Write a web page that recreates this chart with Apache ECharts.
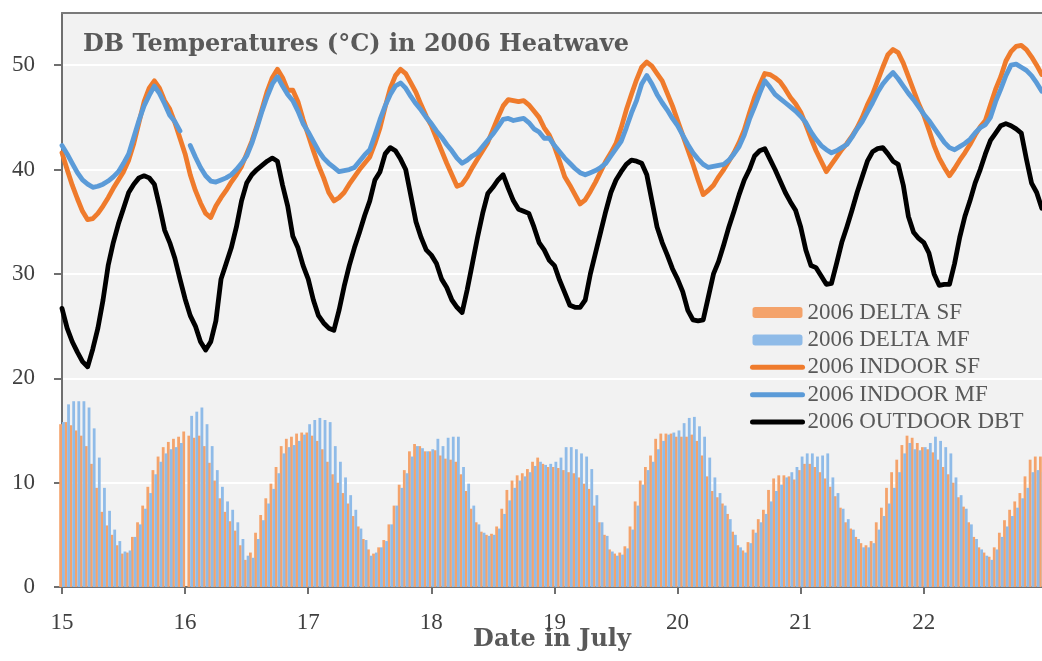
<!DOCTYPE html>
<html>
<head>
<meta charset="utf-8">
<script src="https://cdn.jsdelivr.net/npm/echarts@6/dist/echarts.min.js"></script>
<style>
html,body{margin:0;padding:0;background:#fff;}
#c{width:1042px;height:661px;}
</style>
</head>
<body>
<div id="c"></div>
<script>
// ---- Data (hourly, 15 July 00:00 to 22 July 23:00) ----
const startDay = 15;
const dayTicks = [15, 16, 17, 18, 19, 20, 21, 22];
const seriesNames = ['2006 DELTA SF', '2006 DELTA MF', '2006 INDOOR SF', '2006 INDOOR MF', '2006 OUTDOOR DBT'];

const outdoorDBT = [
  26.7, 24.8, 23.5, 22.5, 21.6, 21.1, 22.8, 24.8, 27.5, 30.8, 33.0, 34.8, 36.3, 37.8, 38.6, 39.2, 39.4, 39.2, 38.6, 36.5, 34.2, 33.0, 31.5, 29.5,
  27.6, 26.0, 25.0, 23.5, 22.7, 23.5, 25.5, 29.5, 31.0, 32.5, 34.5, 37.0, 38.7, 39.5, 40.0, 40.4, 40.8, 41.1, 40.8, 38.5, 36.5, 33.6, 32.5, 30.8,
  29.5, 27.5, 26.0, 25.3, 24.8, 24.6, 26.5, 28.8, 30.8, 32.5, 34.0, 35.6, 37.0, 39.0, 39.8, 41.5, 42.1, 41.8, 41.0, 40.0, 37.5, 35.0, 33.5, 32.3,
  31.8, 31.0, 29.5, 28.7, 27.5, 26.8, 26.3, 28.5, 31.0, 33.5, 35.8, 37.7, 38.3, 39.0, 39.5, 38.2, 37.0, 36.2, 36.0, 35.8, 34.5, 33.0, 32.3, 31.3,
  30.8, 29.4, 28.2, 27.0, 26.8, 26.8, 27.5, 30.0, 32.0, 34.0, 36.0, 37.8, 39.0, 39.8, 40.5, 40.9, 40.8, 40.6, 39.5, 37.0, 34.5, 33.0, 31.8, 30.5,
  29.5, 28.3, 26.5, 25.6, 25.5, 25.6, 27.8, 30.0, 31.2, 32.8, 34.5, 36.0, 37.6, 39.0, 40.0, 41.3, 41.8, 42.0, 41.0, 40.0, 38.9, 37.8, 36.9, 36.1,
  34.5, 32.3, 30.8, 30.6, 29.8, 29.0, 29.1, 31.0, 33.0, 34.5, 36.1, 37.8, 39.3, 40.8, 41.7, 42.0, 42.1, 41.5, 40.8, 40.5, 38.5, 35.5, 34.0, 33.4,
  33.0, 32.0, 30.0, 28.9, 29.0, 29.0, 31.0, 33.5, 35.5, 37.0, 38.7, 40.0, 41.5, 42.8, 43.5, 44.2, 44.4, 44.2, 43.9, 43.5, 41.0, 38.7, 37.8, 36.3
];

const indoorSF = [
  41.6, 40.0, 38.5, 37.2, 36.0, 35.2, 35.3, 35.8, 36.5, 37.3, 38.2, 39.0, 39.8, 40.9, 42.5, 44.5, 46.5, 47.8, 48.5, 47.8, 46.6, 45.8, 44.5, 43.0,
  41.5, 39.5, 38.0, 36.8, 35.8, 35.4, 36.5, 37.3, 38.0, 38.8, 39.5, 40.3, 41.5, 42.7, 44.2, 45.8, 47.5, 48.8, 49.6, 48.8, 47.6, 47.6, 46.5, 44.8,
  43.3, 41.8, 40.4, 39.2, 37.8, 37.0, 37.3, 37.8, 38.6, 39.3, 40.0, 40.6, 41.2, 42.5, 44.0, 46.0, 47.8, 49.0, 49.6, 49.2, 48.3, 47.4, 46.2, 45.1,
  44.2, 43.0, 41.8, 40.6, 39.5, 38.4, 38.6, 39.3, 40.2, 41.0, 41.8, 42.6, 43.8, 45.0, 46.1, 46.7, 46.6, 46.5, 46.6, 46.2, 45.6, 45.0, 44.0, 43.3,
  42.2, 40.8, 39.3, 38.5, 37.6, 36.7, 37.1, 37.9, 38.8, 39.8, 40.8, 41.6, 42.5, 44.0, 45.7, 47.2, 48.6, 49.8, 50.3, 49.9, 49.2, 48.5, 47.3, 46.1,
  44.7, 43.3, 41.9, 40.5, 39.0, 37.6, 38.0, 38.5, 39.3, 40.0, 40.8, 41.6, 42.6, 43.8, 45.4, 46.9, 48.1, 49.2, 49.1, 48.8, 48.4, 47.7, 46.9, 46.3,
  45.5, 44.3, 43.0, 41.8, 40.8, 39.8, 40.5, 41.2, 41.9, 42.5, 43.2, 44.0, 45.0, 46.2, 47.2, 48.5, 49.8, 51.0, 51.5, 51.2, 50.2, 48.9, 47.6, 46.3,
  45.2, 43.8, 42.3, 41.1, 40.2, 39.4, 40.1, 40.9, 41.6, 42.4, 43.3, 44.1, 44.7, 46.2, 47.7, 48.9, 50.4, 51.3, 51.8, 51.9, 51.5, 50.8, 50.0, 49.1
];

const indoorMF = [
  42.3, 41.5, 40.6, 39.7, 39.0, 38.6, 38.3, 38.4, 38.6, 38.9, 39.3, 39.8, 40.6, 41.5, 43.1, 44.7, 46.1, 47.1, 48.0, 47.3, 46.3, 45.2, 44.6, 43.7,
  null, 42.3, 41.2, 40.2, 39.4, 38.9, 38.8, 39.0, 39.2, 39.5, 40.0, 40.6, 41.3, 42.5, 44.0, 45.6, 47.0, 48.2, 48.9, 48.0, 47.2, 46.6, 45.6, 44.4,
  43.6, 42.7, 41.8, 41.1, 40.6, 40.2, 39.8, 39.9, 40.0, 40.2, 40.8, 41.4, 41.9, 43.3, 44.8, 46.1, 47.2, 48.0, 48.3, 47.8, 47.0, 46.3, 45.7, 45.0,
  44.4, 43.7, 43.1, 42.4, 41.8, 41.1, 40.6, 40.9, 41.3, 41.6, 42.2, 42.8, 43.4, 44.1, 44.8, 44.9, 44.7, 44.8, 44.9, 44.5, 43.9, 43.6, 43.0, 43.0,
  42.3, 41.7, 41.1, 40.6, 40.1, 39.7, 39.5, 39.7, 39.9, 40.2, 40.6, 41.3, 42.0, 42.7, 44.0, 45.4, 46.6, 48.2, 49.0, 48.2, 47.2, 46.4, 45.7, 44.9,
  44.2, 43.3, 42.4, 41.6, 41.0, 40.5, 40.2, 40.3, 40.4, 40.5, 40.9, 41.5, 42.2, 43.3, 44.8, 46.0, 47.3, 48.5, 47.9, 47.2, 46.8, 46.4, 46.0, 45.6,
  45.1, 44.5, 43.6, 42.9, 42.3, 41.9, 41.6, 41.8, 42.1, 42.4, 43.1, 43.9, 44.6, 45.5, 46.4, 47.4, 48.2, 48.8, 49.3, 48.7, 48.0, 47.3, 46.7, 46.0,
  45.3, 44.7, 44.0, 43.3, 42.6, 42.1, 41.9, 42.2, 42.5, 42.9, 43.5, 44.0, 44.3, 45.0, 46.5, 47.7, 49.0, 50.0, 50.1, 49.8, 49.5, 49.0, 48.3, 47.5
];

const deltaSF = [
  15.6, 15.8, 15.5, 15.0, 14.5, 13.5, 11.8, 9.5, 7.2, 5.9, 5.0, 4.0, 3.2, 3.3, 4.8, 6.2, 7.8, 9.6, 11.2, 12.5, 13.4, 13.9, 14.2, 14.4,
  14.9, 14.5, 14.3, 14.5, 13.5, 11.9, 10.2, 8.5, 7.2, 6.3, 5.4, 4.0, 2.6, 3.3, 5.2, 6.9, 8.5, 9.9, 11.5, 13.5, 14.2, 14.4, 14.7, 14.8,
  14.8, 14.5, 14.0, 13.2, 12.0, 10.8, 10.0, 9.0, 8.0, 6.8, 5.8, 4.6, 3.6, 3.2, 3.8, 4.5, 6.0, 7.8, 9.8, 11.2, 13.0, 13.7, 13.5, 13.0,
  13.0, 13.1, 12.6, 12.3, 12.2, 12.0, 10.8, 9.2, 7.5, 6.2, 5.3, 5.0, 5.1, 5.8, 7.5, 9.3, 10.2, 10.7, 10.9, 11.3, 12.0, 12.4, 11.8, 11.5,
  11.5, 11.4, 11.2, 11.0, 10.9, 10.5, 9.9, 9.4, 7.8, 6.2, 5.0, 3.6, 3.2, 3.3, 3.9, 5.8, 8.2, 10.2, 11.5, 12.6, 14.2, 14.7, 14.7, 14.7,
  14.4, 14.4, 14.4, 14.6, 14.0, 12.6, 10.6, 9.2, 8.6, 8.0, 7.0, 5.3, 4.0, 3.5, 4.3, 5.5, 6.5, 7.4, 9.3, 10.4, 10.7, 10.7, 10.6, 10.3,
  11.2, 11.8, 11.8, 11.5, 11.0, 10.4, 9.6, 8.7, 7.6, 6.2, 5.6, 4.8, 4.2, 4.0, 4.4, 6.2, 7.6, 9.5, 11.0, 12.2, 13.6, 14.5, 14.3, 13.8,
  13.4, 13.2, 12.9, 12.2, 11.5, 10.8, 10.0, 8.6, 7.7, 6.2, 4.8, 3.8, 3.3, 2.9, 3.8, 5.2, 6.4, 7.4, 8.2, 9.0, 10.6, 12.2, 12.5, 12.5
];

const deltaMF = [
  15.8, 17.5, 17.8, 17.8, 17.8, 17.2, 15.2, 12.4, 9.5, 7.3, 5.5, 4.4, 3.4, 3.5, 4.8, 6.0, 7.5, 9.0, 10.8, 12.0, 12.8, 13.2, 13.4, 13.8,
  null, 16.4, 16.8, 17.2, 15.6, 13.5, 11.2, 9.6, 8.2, 7.4, 6.2, 4.6, 3.0, 2.8, 4.6, 6.4, 8.0, 9.4, 10.9, 12.8, 13.4, 13.6, 14.0, 14.6,
  15.6, 16.0, 16.2, 16.0, 15.8, 13.5, 12.0, 10.5, 8.8, 7.4, 5.6, 4.5, 3.0, 3.3, 3.8, 4.4, 6.0, 7.8, 9.5, 10.9, 12.5, 13.5, 13.3, 13.0,
  13.2, 14.2, 13.5, 14.3, 14.4, 14.4, 11.5, 9.9, 7.8, 6.0, 5.2, 4.9, 5.0, 5.6, 7.0, 8.3, 9.5, 10.2, 10.6, 11.0, 11.6, 12.0, 11.7, 11.8,
  12.0, 12.4, 13.4, 13.4, 13.2, 12.8, 12.5, 11.3, 8.8, 6.2, 4.9, 3.4, 3.0, 3.1, 3.7, 5.5, 7.8, 9.8, 11.2, 12.0, 13.2, 14.0, 14.6, 14.8,
  15.0, 15.7, 16.2, 16.3, 15.4, 14.4, 12.4, 10.5, 9.0, 7.8, 6.5, 5.0, 3.8, 3.3, 4.2, 5.2, 6.2, 7.0, 8.2, 9.2, 9.8, 10.5, 11.0, 11.5,
  12.5, 12.8, 12.8, 12.5, 12.6, 12.8, 10.5, 9.0, 7.5, 6.5, 5.5, 4.6, 3.8, 3.8, 4.2, 5.5, 6.8, 8.0, 9.5, 11.0, 12.8, 13.8, 13.2, 13.1,
  13.4, 13.8, 14.4, 14.0, 13.4, 12.8, 10.5, 8.8, 7.5, 6.0, 4.6, 3.6, 3.0, 2.6, 3.6, 4.8, 5.8, 6.8, 7.6, 8.5, 9.5, 11.0, 11.2, 11.0
];

// ---- Build [time, value] pairs (time in days of July) ----
const hourTime = i => startDay + i / 24;
const toPairs = arr => arr.map((v, i) => [hourTime(i), v]);

const SERIF = '"Liberation Serif", "DejaVu Serif", serif';
const TITLEFONT = '"DejaVu Serif", "Liberation Serif", serif';
const TXT = '#595959';

const chart = echarts.init(document.getElementById('c'), null, {renderer: 'canvas'});
chart.setOption({
  animation: false,
  backgroundColor: '#ffffff',
  title: {
    text: 'DB Temperatures (°C) in 2006 Heatwave',
    left: 78, top: 28,
    textStyle: {fontFamily: TITLEFONT, fontWeight: 'bold', fontSize: 24, color: TXT}
  },
  legend: {
    orient: 'vertical',
    left: 745, top: 296,
    itemWidth: 50, itemHeight: 11, itemGap: 4.4,
    textStyle: {fontFamily: SERIF, fontSize: 23, color: TXT, lineHeight: 22},
    data: [
      {name: seriesNames[0]},
      {name: seriesNames[1]},
      {name: seriesNames[2], itemStyle: {opacity: 0}, lineStyle: {width: 5}},
      {name: seriesNames[3], itemStyle: {opacity: 0}, lineStyle: {width: 5}},
      {name: seriesNames[4], itemStyle: {opacity: 0}, lineStyle: {width: 5}}
    ]
  },
  grid: {left: 62, right: 0, top: 13, bottom: 74, outerBoundsMode: 'none', containLabel: false,
         show: true, backgroundColor: '#f2f2f2', borderWidth: 0},
  xAxis: [{
    type: 'value', min: 15, max: 22.96, interval: 1,
    name: 'Date in July', nameLocation: 'middle', nameGap: 41, nameMoveOverlap: false,
    nameTextStyle: {fontFamily: TITLEFONT, fontWeight: 'bold', fontSize: 24, color: TXT},
    axisLine: {show: true, lineStyle: {color: '#6f6f6f', width: 2}},
    axisTick: {show: true, inside: false, length: 7, lineStyle: {color: '#6f6f6f', width: 2}},
    axisLabel: {fontFamily: SERIF, fontSize: 23, color: '#404040', margin: 24, showMaxLabel: false,
      formatter: v => dayTicks.includes(Math.round(v)) ? String(Math.round(v)) : ''},
    splitLine: {show: false}
  }, {
    type: 'value', position: 'top', min: 15, max: 22.96,
    axisLine: {show: true, onZero: false, lineStyle: {color: '#7a7a7a', width: 2}},
    axisTick: {show: false}, axisLabel: {show: false}, splitLine: {show: false}
  }],
  yAxis: {
    type: 'value', min: 0, max: 55, interval: 10,
    axisLine: {show: true, lineStyle: {color: '#6f6f6f', width: 2}},
    axisTick: {show: true, inside: false, length: 8, lineStyle: {color: '#6f6f6f', width: 2}},
    axisLabel: {fontFamily: SERIF, fontSize: 23, color: '#404040', margin: 27, showMaxLabel: false},
    splitLine: {show: true, lineStyle: {color: '#ffffff', width: 2}}
  },
  series: [
    {name: seriesNames[0], type: 'bar', data: toPairs(deltaSF), barWidth: 2.8, barGap: '0%',
     itemStyle: {color: '#f4a36b'}, z: 1},
    {name: seriesNames[1], type: 'bar', data: toPairs(deltaMF), barWidth: 2.8, barGap: '0%',
     itemStyle: {color: '#8fbbe8'}, z: 1},
    {name: seriesNames[2], type: 'line', data: toPairs(indoorSF), symbol: 'none', showSymbol: false,
     lineStyle: {color: '#ef7b2c', width: 4.8, cap: 'round', join: 'round'}, itemStyle: {color: '#ef7b2c'}, z: 3},
    {name: seriesNames[3], type: 'line', data: toPairs(indoorMF), symbol: 'none', showSymbol: false,
     lineStyle: {color: '#5b9bd8', width: 4.8, cap: 'round', join: 'round'}, itemStyle: {color: '#5b9bd8'}, z: 4},
    {name: seriesNames[4], type: 'line', data: toPairs(outdoorDBT), symbol: 'none', showSymbol: false,
     lineStyle: {color: '#000000', width: 4.8, cap: 'round', join: 'round'}, itemStyle: {color: '#000000'}, z: 5}
  ]
});
</script>
</body>
</html>
